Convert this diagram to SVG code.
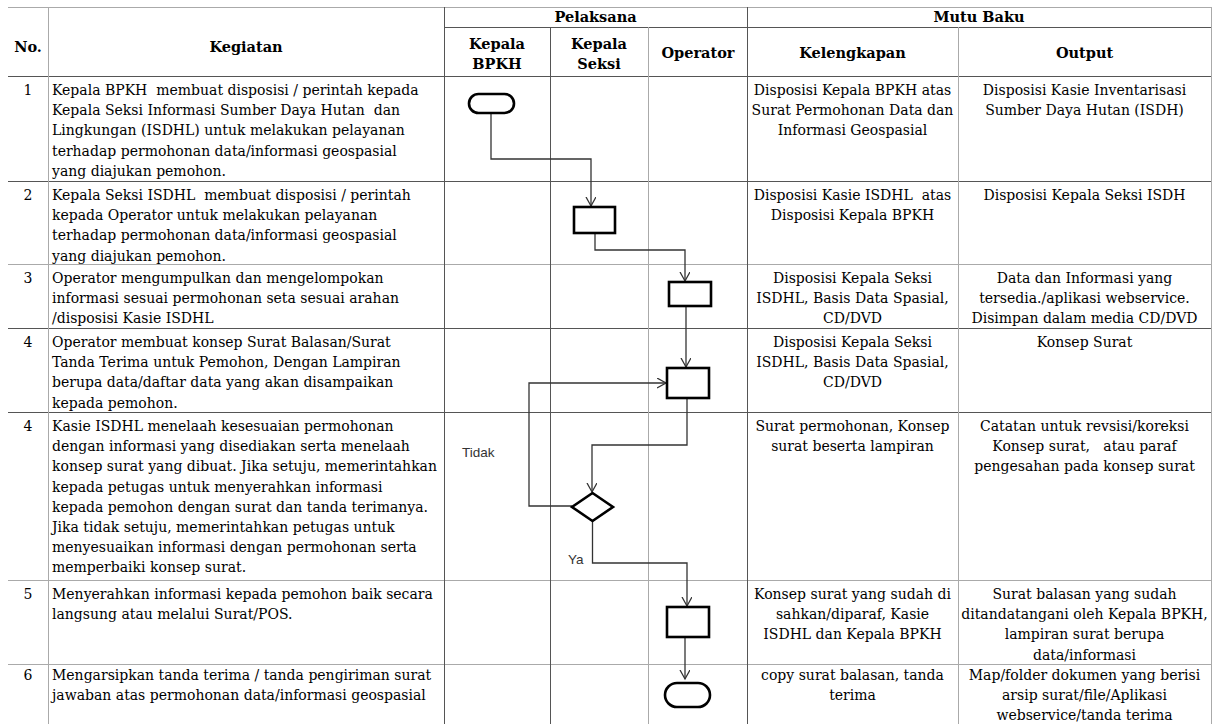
<svg xmlns="http://www.w3.org/2000/svg" width="1214" height="724" viewBox="0 0 1214 724">
<style>
.t{font-family:"DejaVu Serif","Liberation Serif",serif;font-size:14px;fill:#000;white-space:pre}
.h{font-family:"DejaVu Serif","Liberation Serif",serif;font-size:14.5px;font-weight:bold;fill:#000;text-anchor:middle}
.c{text-anchor:middle}
.s{font-family:"Liberation Sans",Arial,sans-serif;font-size:13.5px;fill:#333}
.g{stroke:#555;stroke-width:1;fill:none}
.gl{stroke:#aaa;stroke-width:1;fill:none}
.shape{fill:#fff;stroke:#000;stroke-width:2.6}
.con{fill:none;stroke:#333;stroke-width:1.3}
</style>
<defs>
<marker id="arr" markerUnits="userSpaceOnUse" markerWidth="12" markerHeight="12" refX="9" refY="5" orient="auto">
<path d="M0,0 L9,5 L0,10" fill="none" stroke="#333" stroke-width="1.3"/>
</marker>
</defs>
<rect width="1214" height="724" fill="#fff"/>
<g id="grid">
<line class="gl" x1="8" y1="7.5" x2="1211" y2="7.5"/>
<line class="g" x1="444" y1="27.5" x2="1211" y2="27.5"/>
<line class="g" x1="8" y1="76.5" x2="1211" y2="76.5"/>
<line class="g" x1="8" y1="181.5" x2="1211" y2="181.5"/>
<line class="gl" x1="8" y1="264.5" x2="1211" y2="264.5"/>
<line class="g" x1="8" y1="328.5" x2="1211" y2="328.5"/>
<line class="g" x1="8" y1="412.5" x2="1211" y2="412.5"/>
<line class="gl" x1="8" y1="580.5" x2="1211" y2="580.5"/>
<line class="gl" x1="8" y1="664.5" x2="1211" y2="664.5"/>
<line class="gl" x1="48.5" y1="7" x2="48.5" y2="724"/>
<line class="g" x1="444.5" y1="7" x2="444.5" y2="724"/>
<line class="g" x1="550.5" y1="27" x2="550.5" y2="724"/>
<line class="gl" x1="648.5" y1="27" x2="648.5" y2="724"/>
<line class="g" x1="747.5" y1="7" x2="747.5" y2="724"/>
<line class="gl" x1="958.5" y1="27" x2="958.5" y2="724"/>
<line class="gl" x1="1211.5" y1="7" x2="1211.5" y2="724"/>
</g>
<g id="header">
<text class="h" x="28" y="52">No.</text>
<text class="h" x="246" y="52">Kegiatan</text>
<text class="h" x="595.5" y="22">Pelaksana</text>
<text class="h" x="979" y="22">Mutu Baku</text>
<text class="h" x="497" y="49">Kepala</text>
<text class="h" x="497" y="69">BPKH</text>
<text class="h" x="599" y="49">Kepala</text>
<text class="h" x="599" y="69">Seksi</text>
<text class="h" x="698" y="58">Operator</text>
<text class="h" x="852.5" y="58">Kelengkapan</text>
<text class="h" x="1084.5" y="58">Output</text>
</g>
<g id="row1">
<text class="t c" x="28" y="95">1</text>
<text class="t" y="95"><tspan x="52">Kepala BPKH  membuat disposisi / perintah kepada</tspan><tspan x="52" dy="20.2">Kepala Seksi Informasi Sumber Daya Hutan  dan</tspan><tspan x="52" dy="20.2">Lingkungan (ISDHL) untuk melakukan pelayanan</tspan><tspan x="52" dy="20.2">terhadap permohonan data/informasi geospasial</tspan><tspan x="52" dy="20.2">yang diajukan pemohon.</tspan></text>
<text class="t c" y="95"><tspan x="852.5">Disposisi Kepala BPKH atas</tspan><tspan x="852.5" dy="20.2">Surat Permohonan Data dan</tspan><tspan x="852.5" dy="20.2">Informasi Geospasial</tspan></text>
<text class="t c" y="95"><tspan x="1084.5">Disposisi Kasie Inventarisasi</tspan><tspan x="1084.5" dy="20.2">Sumber Daya Hutan (ISDH)</tspan></text>
</g>
<g id="row2">
<text class="t c" x="28" y="200">2</text>
<text class="t" y="200"><tspan x="52">Kepala Seksi ISDHL  membuat disposisi / perintah</tspan><tspan x="52" dy="20.2">kepada Operator untuk melakukan pelayanan</tspan><tspan x="52" dy="20.2">terhadap permohonan data/informasi geospasial</tspan><tspan x="52" dy="20.2">yang diajukan pemohon.</tspan></text>
<text class="t c" y="200"><tspan x="852.5">Disposisi Kasie ISDHL  atas</tspan><tspan x="852.5" dy="20.2">Disposisi Kepala BPKH</tspan></text>
<text class="t c" y="200"><tspan x="1084.5">Disposisi Kepala Seksi ISDH</tspan></text>
</g>
<g id="row3">
<text class="t c" x="28" y="283">3</text>
<text class="t" y="283"><tspan x="52">Operator mengumpulkan dan mengelompokan</tspan><tspan x="52" dy="20.2">informasi sesuai permohonan seta sesuai arahan</tspan><tspan x="52" dy="20.2">/disposisi Kasie ISDHL</tspan></text>
<text class="t c" y="283"><tspan x="852.5">Disposisi Kepala Seksi</tspan><tspan x="852.5" dy="20.2">ISDHL, Basis Data Spasial,</tspan><tspan x="852.5" dy="20.2">CD/DVD</tspan></text>
<text class="t c" y="283"><tspan x="1084.5">Data dan Informasi yang</tspan><tspan x="1084.5" dy="20.2">tersedia./aplikasi webservice.</tspan><tspan x="1084.5" dy="20.2">Disimpan dalam media CD/DVD</tspan></text>
</g>
<g id="row4">
<text class="t c" x="28" y="347">4</text>
<text class="t" y="347"><tspan x="52">Operator membuat konsep Surat Balasan/Surat</tspan><tspan x="52" dy="20.2">Tanda Terima untuk Pemohon, Dengan Lampiran</tspan><tspan x="52" dy="20.2">berupa data/daftar data yang akan disampaikan</tspan><tspan x="52" dy="20.2">kepada pemohon.</tspan></text>
<text class="t c" y="347"><tspan x="852.5">Disposisi Kepala Seksi</tspan><tspan x="852.5" dy="20.2">ISDHL, Basis Data Spasial,</tspan><tspan x="852.5" dy="20.2">CD/DVD</tspan></text>
<text class="t c" y="347"><tspan x="1084.5">Konsep Surat</tspan></text>
</g>
<g id="row4b">
<text class="t c" x="28" y="431">4</text>
<text class="t" y="431"><tspan x="52">Kasie ISDHL menelaah kesesuaian permohonan</tspan><tspan x="52" dy="20.2">dengan informasi yang disediakan serta menelaah</tspan><tspan x="52" dy="20.2">konsep surat yang dibuat. Jika setuju, memerintahkan</tspan><tspan x="52" dy="20.2">kepada petugas untuk menyerahkan informasi</tspan><tspan x="52" dy="20.2">kepada pemohon dengan surat dan tanda terimanya.</tspan><tspan x="52" dy="20.2">Jika tidak setuju, memerintahkan petugas untuk</tspan><tspan x="52" dy="20.2">menyesuaikan informasi dengan permohonan serta</tspan><tspan x="52" dy="20.2">memperbaiki konsep surat.</tspan></text>
<text class="t c" y="431"><tspan x="852.5">Surat permohonan, Konsep</tspan><tspan x="852.5" dy="20.2">surat beserta lampiran</tspan></text>
<text class="t c" y="431"><tspan x="1084.5">Catatan untuk revsisi/koreksi</tspan><tspan x="1084.5" dy="20.2">Konsep surat,   atau paraf</tspan><tspan x="1084.5" dy="20.2">pengesahan pada konsep surat</tspan></text>
</g>
<g id="row5">
<text class="t c" x="28" y="599">5</text>
<text class="t" y="599"><tspan x="52">Menyerahkan informasi kepada pemohon baik secara</tspan><tspan x="52" dy="20.2">langsung atau melalui Surat/POS.</tspan></text>
<text class="t c" y="599"><tspan x="852.5">Konsep surat yang sudah di</tspan><tspan x="852.5" dy="20.2">sahkan/diparaf, Kasie</tspan><tspan x="852.5" dy="20.2">ISDHL dan Kepala BPKH</tspan></text>
<text class="t c" y="599"><tspan x="1084.5">Surat balasan yang sudah</tspan><tspan x="1084.5" dy="20.2">ditandatangani oleh Kepala BPKH,</tspan><tspan x="1084.5" dy="20.2">lampiran surat berupa</tspan><tspan x="1084.5" dy="20.2">data/informasi</tspan></text>
</g>
<g id="row6">
<text class="t c" x="28" y="680">6</text>
<text class="t" y="680"><tspan x="52">Mengarsipkan tanda terima / tanda pengiriman surat</tspan><tspan x="52" dy="20.2">jawaban atas permohonan data/informasi geospasial</tspan></text>
<text class="t c" y="680"><tspan x="852.5">copy surat balasan, tanda</tspan><tspan x="852.5" dy="20.2">terima</tspan></text>
<text class="t c" y="680"><tspan x="1084.5">Map/folder dokumen yang berisi</tspan><tspan x="1084.5" dy="20.2">arsip surat/file/Aplikasi</tspan><tspan x="1084.5" dy="20.2">webservice/tanda terima</tspan></text>
</g>
<g id="connectors">
<path class="con" marker-end="url(#arr)" d="M491,113 V159 H591 V206"/>
<path class="con" marker-end="url(#arr)" d="M595,233 V250 H685 V281"/>
<path class="con" marker-end="url(#arr)" d="M686,306 V367"/>
<path class="con" marker-end="url(#arr)" d="M687,398 V445 H592 V492"/>
<path class="con" marker-end="url(#arr)" d="M572,506 H529 V383 H666"/>
<path class="con" marker-end="url(#arr)" d="M592.5,521 V563 H687 V606"/>
<path class="con" marker-end="url(#arr)" d="M685,637 V679"/>
<text class="s" x="462" y="457">Tidak</text>
<text class="s" x="568" y="564">Ya</text>
</g>
<g id="start"><rect class="shape" x="469" y="94" width="45" height="19" rx="9.5"/></g>
<g id="step2"><rect class="shape" x="574" y="207" width="41" height="26"/></g>
<g id="step3"><rect class="shape" x="669" y="282" width="42" height="24"/></g>
<g id="step4"><rect class="shape" x="667" y="368" width="42" height="30"/></g>
<g id="decision"><polygon class="shape" points="592.5,493 613,507 592.5,521 572,507"/></g>
<g id="step5"><rect class="shape" x="667" y="607" width="42" height="30"/></g>
<g id="end"><rect class="shape" x="665" y="683" width="45" height="24" rx="12"/></g>
</svg>
